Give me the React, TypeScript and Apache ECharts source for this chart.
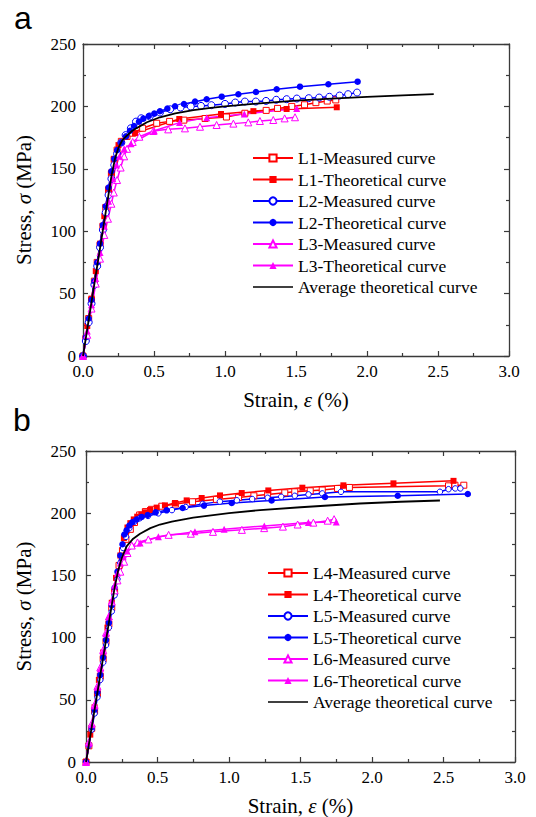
import React, { useEffect, useRef } from "react";
import * as echarts from "echarts";

// ---------- tick values ----------
const strainTicks = [0, 0.5, 1.0, 1.5, 2.0, 2.5, 3.0];
const stressTicks = [0, 50, 100, 150, 200, 250];

// ---------- legend names ----------
const namesA = [
  "L1-Measured curve",
  "L1-Theoretical curve",
  "L2-Measured curve",
  "L2-Theoretical curve",
  "L3-Measured curve",
  "L3-Theoretical curve",
  "Average theoretical curve",
];
const namesB = [
  "L4-Measured curve",
  "L4-Theoretical curve",
  "L5-Measured curve",
  "L5-Theoretical curve",
  "L6-Measured curve",
  "L6-Theoretical curve",
  "Average theoretical curve",
];

// ---------- panel a data [strain %, stress MPa] ----------
const aL1Measured = [
  [0, 0], [0.02, 14], [0.04, 30], [0.06, 45], [0.08, 60], [0.1, 75], [0.12, 89], [0.14, 104],
  [0.16, 119], [0.18, 133], [0.2, 146], [0.22, 157], [0.24, 165], [0.27, 172], [0.31, 176],
  [0.35, 178.5], [0.42, 182.5], [0.519, 186.5], [0.61, 188], [0.71, 189], [0.86, 190.3],
  [1.01, 191.5], [1.14, 194.5], [1.29, 196.8], [1.37, 198.4], [1.47, 200], [1.56, 201.3],
  [1.64, 203], [1.72, 204.3], [1.78, 205.2],
];
const aL1Theoretical = [
  [0, 0], [0.03, 24], [0.06, 46], [0.09, 68], [0.12, 90], [0.15, 112], [0.18, 134], [0.2, 147],
  [0.217, 158], [0.25, 169], [0.3, 175.5], [0.366, 178.6], [0.678, 189.9], [0.972, 193.9],
  [1.2, 196.2], [1.434, 197.9], [1.787, 199.3],
];
const aL2Measured = [
  [0, 0], [0.02, 12], [0.04, 27], [0.06, 42], [0.08, 57], [0.1, 72], [0.12, 87], [0.14, 101],
  [0.16, 115], [0.18, 129], [0.2, 142], [0.22, 153], [0.24, 162], [0.27, 171], [0.3, 177],
  [0.337, 182.5], [0.373, 187.8], [0.41, 190.5], [0.47, 191.9], [0.542, 195.1], [0.614, 197.7],
  [0.687, 199.1], [0.759, 199.9], [0.831, 200.4], [0.904, 201], [1.0, 202], [1.072, 203.1],
  [1.14, 203.9], [1.217, 203.9], [1.289, 204.4], [1.361, 205.3], [1.434, 205.8], [1.506, 206.3],
  [1.59, 206.6], [1.663, 207.1], [1.735, 207.7], [1.807, 208.7], [1.867, 209.8], [1.93, 211.1],
];
const aL2Theoretical = [
  [0, 0], [0.02, 15], [0.04, 30], [0.06, 45], [0.08, 60], [0.1, 75], [0.12, 90], [0.14, 105],
  [0.16, 120], [0.18, 135], [0.2, 148], [0.22, 158], [0.24, 165], [0.27, 171], [0.303, 176],
  [0.331, 180.5], [0.359, 184.3], [0.394, 187.8], [0.425, 190.2], [0.463, 192.3], [0.502, 194.2],
  [0.542, 196.1], [0.594, 198.2], [0.648, 200.1], [0.711, 201.9], [0.789, 203.8], [0.871, 205.7],
  [0.977, 207.8], [1.094, 209.7], [1.218, 211.5], [1.364, 213.7], [1.528, 215.8], [1.728, 217.7],
  [1.934, 219.8],
];
const aL3Measured = [
  [0, 0], [0.03, 17], [0.06, 38], [0.09, 58], [0.12, 78], [0.15, 97], [0.176, 110], [0.2, 122],
  [0.217, 131], [0.24, 141], [0.265, 151], [0.29, 160], [0.31, 166], [0.35, 171.5], [0.397, 175.7],
  [0.495, 180.3], [0.6, 181.6], [0.718, 182.4], [0.824, 183.7], [0.941, 185.1], [1.059, 186.2],
  [1.164, 187.2], [1.246, 188.3], [1.34, 189.1], [1.42, 190.4], [1.493, 191.3],
];
const aL3Theoretical = [
  [0, 0], [0.03, 20], [0.06, 41], [0.09, 62], [0.12, 83], [0.15, 104], [0.18, 124], [0.21, 142],
  [0.235, 153], [0.258, 160], [0.29, 166], [0.338, 170], [0.502, 180.5], [0.68, 187],
  [0.871, 191], [1.136, 193.9], [1.505, 198.4],
];
const aAverage = [
  [0, 0], [0.05, 36], [0.1, 72], [0.15, 108], [0.2, 144], [0.225, 158], [0.25, 167], [0.275, 172.5],
  [0.308, 176.5], [0.34, 179.8], [0.378, 182.6], [0.45, 187.3], [0.542, 191.3], [0.65, 194.5],
  [0.777, 197.1], [0.9, 198.8], [1.0, 200], [1.246, 202.5], [1.5, 204.6], [1.716, 206],
  [2.0, 207.6], [2.25, 208.8], [2.47, 209.8],
];

// ---------- panel b data ----------
const bL4Measured = [
  [0, 0], [0.02, 13], [0.04, 27], [0.06, 41], [0.08, 55], [0.1, 69], [0.12, 83], [0.14, 97],
  [0.16, 111], [0.18, 124], [0.2, 137], [0.231, 158], [0.255, 170], [0.279, 179], [0.31, 187],
  [0.339, 192.5], [0.375, 198.6], [0.415, 201.3], [0.458, 203.1], [0.53, 205.6], [0.625, 207.4],
  [0.745, 209.2], [0.912, 211.1], [1.067, 212.7], [1.174, 214], [1.27, 215.1], [1.39, 216.4],
  [1.46, 217.2], [1.568, 218], [1.652, 218.6], [1.759, 219.9], [1.842, 220.7], [2.535, 222],
  [2.58, 222.5], [2.642, 222.5],
];
const bL4Theoretical = [
  [0, 0], [0.03, 22], [0.06, 44], [0.09, 66], [0.12, 88], [0.15, 108], [0.18, 128], [0.21, 148],
  [0.24, 166], [0.265, 180], [0.29, 188.5], [0.31, 192], [0.334, 195], [0.358, 197.2],
  [0.387, 199], [0.413, 200.7], [0.448, 202.6], [0.494, 204.5], [0.552, 206.3], [0.622, 208.2],
  [0.704, 210.3], [0.809, 212.2], [0.937, 214.3], [1.089, 216.2], [1.275, 218.3], [1.513, 220.5],
  [1.8, 222.4], [2.15, 224], [2.57, 226],
];
const bL5Measured = [
  [0, 0], [0.02, 13], [0.04, 26], [0.06, 39], [0.08, 52], [0.1, 66], [0.12, 80], [0.14, 94],
  [0.16, 108], [0.18, 121], [0.2, 134], [0.22, 147], [0.24, 160], [0.26, 172], [0.28, 181],
  [0.303, 187.9], [0.339, 193.2], [0.375, 195.9], [0.434, 197.8], [0.506, 199.9], [0.601, 202.5],
  [0.697, 205], [0.816, 207.5], [0.936, 209.3], [1.055, 210.4], [1.162, 211.4], [1.27, 212.4],
  [1.365, 213.2], [1.46, 214], [1.556, 215.1], [1.652, 215.9], [1.783, 217.2], [2.475, 217.2],
  [2.535, 219.3], [2.582, 219.9], [2.618, 219.9],
];
const bL5Theoretical = [
  [0, 0], [0.02, 14], [0.04, 28], [0.06, 42], [0.08, 56], [0.1, 70], [0.12, 84], [0.14, 98],
  [0.16, 112], [0.18, 126], [0.2, 140], [0.22, 153], [0.24, 166], [0.255, 175], [0.268, 182.9],
  [0.284, 186.3], [0.303, 190.1], [0.324, 192.7], [0.354, 194.9], [0.389, 197], [0.431, 198.6],
  [0.487, 200.7], [0.564, 202.3], [0.676, 204.2], [0.825, 206.1], [1.019, 208.2], [1.298, 210.3],
  [1.671, 213], [2.18, 214], [2.67, 215.4],
];
const bL6Measured = [
  [0, 0], [0.02, 16], [0.04, 31], [0.06, 46], [0.08, 61], [0.1, 76], [0.12, 90], [0.14, 104],
  [0.16, 117], [0.18, 129], [0.2, 138], [0.22, 146], [0.24, 153], [0.267, 161], [0.29, 168],
  [0.32, 174], [0.36, 176.5], [0.436, 178.9], [0.578, 182.6], [0.733, 183.5], [0.888, 185],
  [1.09, 186.6], [1.246, 188], [1.377, 189.2], [1.48, 190.9], [1.59, 192.4], [1.69, 194],
  [1.735, 195.2],
];
const bL6Theoretical = [
  [0, 0], [0.02, 15], [0.04, 30], [0.06, 45], [0.08, 60], [0.1, 75], [0.12, 89], [0.14, 103],
  [0.16, 117], [0.18, 130], [0.2, 142], [0.22, 152], [0.24, 160], [0.26, 165], [0.285, 169.6],
  [0.378, 176], [0.506, 181], [0.762, 185], [0.966, 187], [1.247, 189.8], [1.555, 192.5],
  [1.75, 193],
];
const bAverage = [
  [0, 0], [0.05, 35], [0.1, 70], [0.15, 105], [0.2, 140], [0.225, 154], [0.25, 164],
  [0.285, 173.6], [0.33, 179.5], [0.378, 183.5], [0.45, 188], [0.517, 190.9], [0.6, 193.2],
  [0.75, 196.5], [1.0, 200], [1.217, 202.5], [1.5, 204.8], [1.916, 207.8], [2.2, 209.2],
  [2.475, 210.2],
];

const seriesDataA = [aL1Measured, aL1Theoretical, aL2Measured, aL2Theoretical, aL3Measured, aL3Theoretical, aAverage];
const seriesDataB = [bL4Measured, bL4Theoretical, bL5Measured, bL5Theoretical, bL6Measured, bL6Theoretical, bAverage];

// ---------- styles ----------
const SERIF = "Liberation Serif, Times New Roman, Times, serif";
const SANS = "Liberation Sans, Arial, sans-serif";
const AXIS_COLOR = "#3a3a3a";
const colors = ["#ff0000", "#ff0000", "#0000ff", "#0000ff", "#ff00ff", "#ff00ff", "#000000"];
const symbols = ["rect", "rect", "circle", "circle", "triangle", "triangle", "none"];
const hollow = [true, false, true, false, true, false, false];
const symbolSizesA = [6, 6, 7, 6.5, 7, 7, 0];
const symbolSizesB = [6, 6, 5.5, 6.5, 7, 7, 0];
const AVG_ICON = "path://M0,0H40V1.6H0Z";

function buildAxes(gridIndex: number, yNameGap: number, yLabelMargin: number) {
  const common = {
    gridIndex,
    type: "value" as const,
    splitLine: { show: false },
    axisLine: { show: true, onZero: false, lineStyle: { color: AXIS_COLOR, width: 1.3 } },
    axisTick: { show: true, inside: true, length: 5, lineStyle: { color: AXIS_COLOR, width: 1.2 } },
    minorTick: { show: true, splitNumber: 2, length: 3, lineStyle: { color: AXIS_COLOR, width: 1.2 } },
  };
  const xMin = strainTicks[0];
  const xMax = strainTicks[strainTicks.length - 1];
  const xInt = strainTicks[1] - strainTicks[0];
  const yMin = stressTicks[0];
  const yMax = stressTicks[stressTicks.length - 1];
  const yInt = stressTicks[1] - stressTicks[0];
  const nameStyle = {
    color: "#000",
    fontSize: 21,
    fontFamily: SERIF,
    rich: {
      n: { fontSize: 21, fontFamily: SERIF, color: "#000" },
      i: { fontSize: 21, fontFamily: SERIF, fontStyle: "italic", color: "#000" },
    },
  };
  const x = [
    {
      ...common,
      position: "bottom",
      min: xMin,
      max: xMax,
      interval: xInt,
      axisLabel: {
        color: "#000",
        fontSize: 17,
        fontFamily: SERIF,
        margin: 8,
        lineHeight: 14,
        formatter: (v: number) => v.toFixed(1),
      },
      name: "{n|Strain, }{i|ε}{n| (%)}",
      nameLocation: "middle",
      nameGap: 33,
      nameTextStyle: nameStyle,
    },
    { ...common, position: "top", min: xMin, max: xMax, interval: xInt, axisLabel: { show: false } },
  ];
  const y = [
    {
      ...common,
      position: "left",
      min: yMin,
      max: yMax,
      interval: yInt,
      axisLabel: { color: "#000", fontSize: 17, fontFamily: SERIF, margin: yLabelMargin, lineHeight: 12 },
      name: "{n|Stress, }{i|σ}{n| (MPa)}",
      nameLocation: "middle",
      nameGap: yNameGap,
      nameTextStyle: nameStyle,
    },
    { ...common, position: "right", min: yMin, max: yMax, interval: yInt, axisLabel: { show: false } },
  ];
  return { x, y };
}

function buildSeries(names: string[], datas: number[][][], sizes: number[], axisIndex: number) {
  return names.map((name, i) => ({
    type: "line" as const,
    name,
    xAxisIndex: axisIndex,
    yAxisIndex: axisIndex,
    data: datas[i],
    symbol: symbols[i],
    symbolSize: sizes[i],
    showSymbol: symbols[i] !== "none",
    showAllSymbol: true,
    lineStyle: { color: colors[i], width: i === 6 ? 1.8 : 1.5 },
    itemStyle: hollow[i]
      ? { color: "#ffffff", borderColor: colors[i], borderWidth: 1 }
      : { color: colors[i] },
    emphasis: { disabled: true },
    z: i === 6 ? 5 : 2,
  }));
}

function legendData(names: string[]) {
  return names.map((n, i) => (i === 6 ? { name: n, icon: AVG_ICON } : { name: n }));
}

export default function App() {
  const ref = useRef<HTMLDivElement>(null);
  useEffect(() => {
    if (!ref.current) return;
    const chart = echarts.init(ref.current, undefined, { renderer: "svg" });
    const axA = buildAxes(0, 49, 7);
    const axB = buildAxes(1, 52, 10);
    const legendCommon = {
      orient: "vertical" as const,
      itemWidth: 40,
      itemHeight: 9,
      itemGap: 3.5,
      selectedMode: false,
      textStyle: { color: "#000", fontSize: 17.5, fontFamily: SERIF, lineHeight: 17 },
    };
    chart.setOption({
      animation: false,
      backgroundColor: "#ffffff",
      grid: [
        { left: 83, top: 44, width: 426, height: 312 },
        { left: 86, top: 451, width: 429, height: 313 },
      ],
      xAxis: [axA.x[0], axA.x[1], { ...axB.x[0], gridIndex: 1 }, { ...axB.x[1], gridIndex: 1 }],
      yAxis: [axA.y[0], axA.y[1], { ...axB.y[0], gridIndex: 1 }, { ...axB.y[1], gridIndex: 1 }],
      legend: [
        { ...legendCommon, left: 247, top: 144, data: legendData(namesA) },
        { ...legendCommon, left: 262, top: 559, data: legendData(namesB) },
      ],
      series: [
        ...buildSeries(namesA, seriesDataA, symbolSizesA, 0),
        ...buildSeries(namesB, seriesDataB, symbolSizesB, 2),
      ],
      graphic: [
        { type: "text", left: 14, top: 2, style: { text: "a", font: `32px ${SANS}`, fill: "#000" } },
        { type: "text", left: 13, top: 404, style: { text: "b", font: `32px ${SANS}`, fill: "#000" } },
      ],
    });
    return () => chart.dispose();
  }, []);
  return (
    <div
      ref={ref}
      style={{ position: "absolute", left: 0, top: 0, width: 536, height: 817, background: "#fff" }}
    />
  );
}
